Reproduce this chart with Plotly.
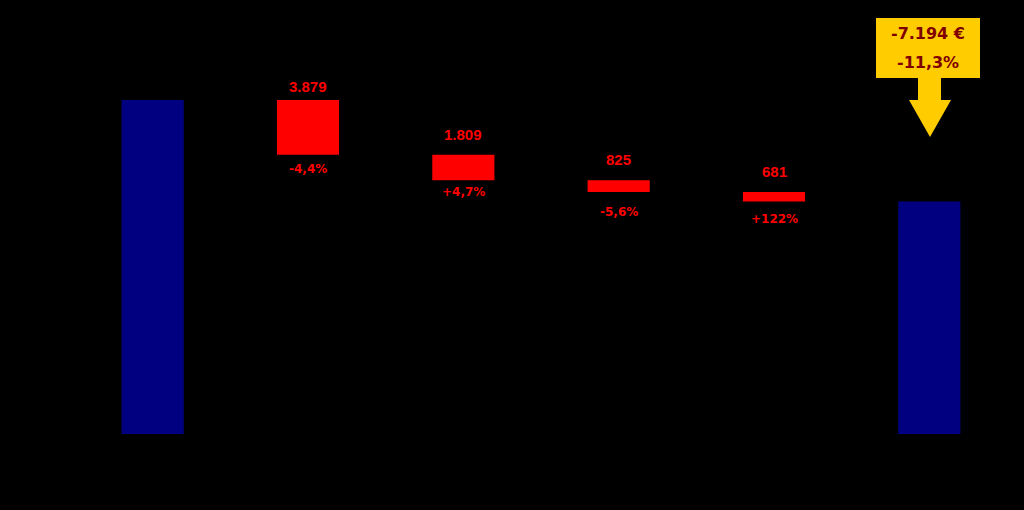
import plotly.graph_objects as go

# ---- data ----
categories = ["Start", "Effekt 1", "Effekt 2", "Effekt 3", "Effekt 4", "Ende"]
start_value = 63660
changes = [-3879, -1809, -825, -681]
value_labels = ["3.879", "1.809", "825", "681"]
pct_labels = ["-4,4%", "+4,7%", "-5,6%", "+122%"]
total_change_label = "-7.194 €"
total_pct_label = "-11,3%"

# ---- derived waterfall geometry ----
end_value = start_value + sum(changes)
bases, heights = [], []
running = start_value
for c in changes:
    bases.append(running + c)
    heights.append(-c)
    running += c

y_min, y_max = 40000, 69324

fig = go.Figure()
fig.add_trace(go.Bar(
    x=[categories[0], categories[-1]], y=[start_value - y_min, end_value - y_min],
    base=[y_min, y_min], marker=dict(color="#000080", line=dict(width=0)),
    width=0.4, hoverinfo="skip", showlegend=False))
fig.add_trace(go.Bar(
    x=categories[1:5], y=heights, base=bases,
    marker=dict(color="#FF0000", line=dict(width=0)),
    width=0.4, hoverinfo="skip", showlegend=False))

label_up = [3, 10, 10, 10]
label_down = [5, 3, 11, 8]
for i, cat in enumerate(categories[1:5]):
    top = bases[i] + heights[i]
    bottom = bases[i]
    fig.add_annotation(x=cat, y=top, text="<b>%s</b>" % value_labels[i],
                       showarrow=False, yanchor="bottom", yshift=label_up[i],
                       font=dict(family="Liberation Sans, Arial", size=15, color="#FF0000"))
    fig.add_annotation(x=cat, y=bottom, text="<b>%s</b>" % pct_labels[i],
                       showarrow=False, yanchor="top", yshift=-label_down[i],
                       font=dict(family="DejaVu Sans, Verdana", size=12, color="#FF0000"))

# ---- callout (pixel -> paper helpers) ----
L, R, T, B = 75, 17, 20, 76
W, H = 1024, 510
pw, ph = W - L - R, H - T - B
def px(x):
    return (x - L) / pw
def py(y):
    return (H - B - y) / ph

gold = "#FFCC00"
fig.add_shape(type="rect", xref="paper", yref="paper",
              x0=px(876), x1=px(980), y0=py(78), y1=py(18),
              fillcolor=gold, line=dict(width=0), layer="above")
path = "M {a},{b} L {c},{b} L {c},{d} L {e},{d} L {f},{g} L {h},{d} L {i},{d} L {i},{b} Z".format(
    a=px(918), b=py(77), c=px(941), d=py(100), e=px(951), f=px(930), g=py(137), h=px(909), i=px(918))
fig.add_shape(type="path", xref="paper", yref="paper", path=path,
              fillcolor=gold, line=dict(width=0), layer="above")
fig.add_annotation(xref="paper", yref="paper", x=px(928), y=py(33), xanchor="center", yanchor="middle",
                   text="<b>%s</b>" % total_change_label,
                   showarrow=False, font=dict(family="DejaVu Sans, Verdana", size=16, color="#800000"))
fig.add_annotation(xref="paper", yref="paper", x=px(928), y=py(62), xanchor="center", yanchor="middle",
                   text="<b>%s</b>" % total_pct_label,
                   showarrow=False, font=dict(family="DejaVu Sans, Verdana", size=16, color="#800000"))

fig.update_layout(
    width=W, height=H,
    margin=dict(l=L, r=R, t=T, b=B),
    paper_bgcolor="#000000", plot_bgcolor="#000000",
    barmode="overlay", showlegend=False,
    xaxis=dict(type="category", categoryorder="array", categoryarray=categories,
               range=[-0.5, 5.5], showticklabels=False, showgrid=False, zeroline=False,
               showline=False, ticks=""),
    yaxis=dict(range=[y_min, y_max], showticklabels=False, showgrid=False, zeroline=False,
               showline=False, ticks=""),
)

fig.write_html("out.html", config={"displayModeBar": False},
               post_script="document.body.style.margin='0';document.body.style.background='#000';")
